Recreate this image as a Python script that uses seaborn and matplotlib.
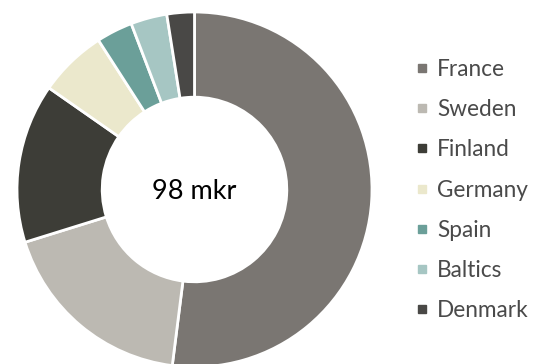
import matplotlib
matplotlib.use("Agg")
import matplotlib.pyplot as plt
from matplotlib.lines import Line2D
import seaborn as sns

countries = ["France", "Sweden", "Finland", "Germany", "Spain", "Baltics", "Denmark"]
shares = [52.0, 18.2, 14.5, 6.2, 3.3, 3.3, 2.5]
colors = ["#7a7672", "#bcb9b2", "#3d3d37", "#ebe8cc", "#6b9f99", "#a6c6c3", "#494846"]
center_label = "98 mkr"

sns.set_theme(style="white")
plt.rcParams["font.family"] = ["Lato", "DejaVu Sans"]
palette = sns.color_palette(colors)

fig = plt.figure(figsize=(5.41, 3.64), dpi=100)
ax = fig.add_axes([17 / 541, -3 / 364, 355 / 541, 355 / 364])
ax.pie(shares, colors=palette, startangle=90, counterclock=False, radius=1,
       wedgeprops=dict(width=0.48, edgecolor="white", linewidth=2))
ax.set_xlim(-1, 1)
ax.set_ylim(-1, 1)
ax.set_aspect("equal")
ax.axis("off")
ax.text(0, -0.01, center_label, ha="center", va="center", fontsize=19.5, color="black")

handles = [Line2D([0], [0], marker="s", linestyle="", markersize=6,
                  markerfacecolor=c, markeredgecolor=c) for c in palette]
fig.legend(handles, countries, loc="center left", bbox_to_anchor=(404 / 541, 174 / 364),
           frameon=False, fontsize=16.3, labelcolor="#4a4a4a", handlelength=0.6,
           handletextpad=0.35, labelspacing=0.85, borderpad=0)
fig.savefig("out.png", dpi=100)
